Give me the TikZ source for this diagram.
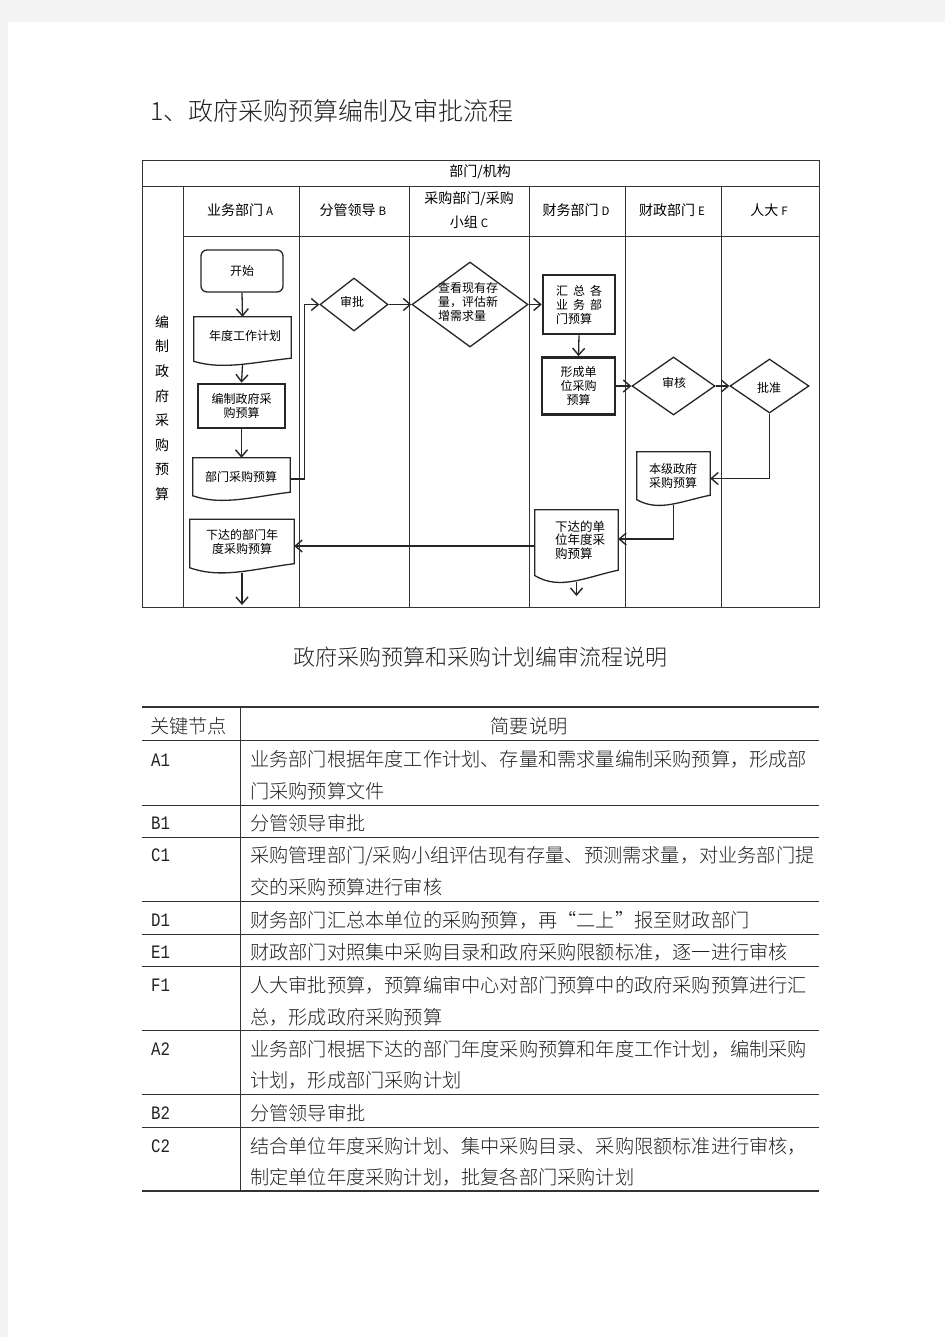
\documentclass[tikz,border=0pt]{standalone}
\usepackage{fontspec}
\setmainfont{Noto Sans CJK SC}
\IfFontExistsTF{Noto Sans CJK SC Light}{\newfontfamily\thinfont{Noto Sans CJK SC Light}}{\newfontfamily\thinfont{Noto Sans CJK SC}}
\newfontfamily\labfont[FakeStretch=0.83]{Liberation Mono}
\usetikzlibrary{arrows.meta,calc,shapes.geometric}
\definecolor{pagegray}{HTML}{F3F3F3}
\definecolor{ink}{HTML}{222222}
\definecolor{rulec}{HTML}{333333}
\newcommand\ltr[1]{{\fontsize{11.5}{11.5}\selectfont #1}}
\newcommand\docpath[2]{%
  \draw[flow] (#1.north west) -- (#1.north east) -- ($(#1.south east)+(0,{-#2})$)
   .. controls ($(#1.south west)!0.6!(#1.south east)+(0,{-0.4*#2})$) and ($(#1.south west)!0.3!(#1.south east)+(0,{0.7*#2})$) .. ($(#1.south west)+(0,{-0.55*#2})$) -- cycle;}
\begin{document}
\begin{tikzpicture}[x=1pt,y=-1pt,
  grid/.style={draw=rulec, line width=0.9pt},
  flow/.style={draw=black!85, line width=1.3pt},
  arr/.style={flow, -{Straight Barb[length=7pt,width=12pt,line width=1.4pt]}},
  ftext/.style={font=\fontsize{12}{14}\selectfont, inner sep=0pt, text=black},
  boxn/.style={ftext, draw=black!85, line width=1.3pt, align=center},
  thickbox/.style={boxn, line width=2.6pt},
  docn/.style={inner sep=0pt, draw=none},
  dia/.style={diamond, draw=black!85, line width=1.3pt, inner sep=0pt, aspect=1},
  hdr/.style={font=\fontsize{14}{24}\selectfont, inner sep=0pt, text=black},
  trule/.style={draw=rulec, line width=1pt},
  tcell/.style={font=\thinfont\fontsize{19.2}{31.5}\selectfont, inner sep=0pt, text=ink, align=left},
  tlab/.style={font=\labfont\fontsize{19}{20}\selectfont, inner sep=0pt, text=ink, anchor=west}
]
\fill[pagegray] (0,0) rectangle (945,1337);
\fill[white] (8,22) rectangle (945,1337);
\useasboundingbox (0,0) rectangle (945,1337);

% title
\node[anchor=west, inner sep=0pt, text=ink, font=\thinfont\fontsize{25}{25}\selectfont] (title) at (150,111) {1、政府采购预算编制及审批流程};

% swimlane grid
\draw[grid] (142,160) rectangle (819,607);
\draw[grid] (142,186) -- (819,186);
\draw[grid] (183,236) -- (819,236);
\draw[grid] (183,186) -- (183,607);
\foreach \xx in {299,409,529,625,721} \draw[grid] (\xx,186) -- (\xx,607);

\node[hdr] (h0) at (480,172) {部门/机构};
\node[hdr] (hA) at (240,210) {业务部门\hspace{3pt}\ltr{A}};
\node[hdr] (hB) at (353,210) {分管领导\hspace{3pt}\ltr{B}};
\node[hdr, align=center] (hC) at (469,210) {采购部门/采购\\小组\hspace{3pt}\ltr{C}};
\node[hdr] (hD) at (576,210) {财务部门\hspace{3pt}\ltr{D}};
\node[hdr] (hE) at (672,210) {财政部门\hspace{3pt}\ltr{E}};
\node[hdr] (hF) at (769,210) {人大\hspace{3pt}\ltr{F}};
\node[hdr, align=center, font=\fontsize{14}{24.6}\selectfont] (lane) at (162,408) {编\\制\\政\\府\\采\\购\\预\\算};

% flow nodes
\node[boxn, rounded corners=6pt, minimum width=82, minimum height=42] (start) at (242,271) {开始};
\node[docn, minimum width=97, minimum height=48] (plan) at (242.5,341) {};
\node[ftext] (plan-t) at (245,336) {年度工作计划};
\node[thickbox, minimum width=87, minimum height=44] (bz) at (241.5,406) {编制政府采\\购预算};
\node[docn, minimum width=97, minimum height=42] (dept) at (241.5,479) {};
\node[ftext] (dept-t) at (241,477) {部门采购预算};
\node[dia, minimum width=68, minimum height=53] (sp) at (354,304.5) {};
\node[ftext] (sp-t) at (352,302) {审批};
\node[dia, minimum width=116, minimum height=85] (ck) at (470,304.5) {};
\node[ftext, align=left] (ck-t) at (468,301.5) {查看现有存\\量，评估新\\增需求量};
\node[thickbox, align=left, minimum width=72, minimum height=59] (hz) at (579,304.5) {汇\hspace{5pt}总\hspace{5pt}各\\业\hspace{5pt}务\hspace{5pt}部\\门预算};
\node[thickbox, minimum width=73, minimum height=57] (xc) at (578.5,386) {形成单\\位采购\\预算};
\node[dia, minimum width=83, minimum height=58] (sh) at (673.5,386) {};
\node[ftext] (sh-t) at (674,383) {审核};
\node[dia, minimum width=79, minimum height=54] (pz) at (769.5,386) {};
\node[ftext] (pz-t) at (769,388) {批准};
\node[docn, minimum width=73, minimum height=53] (bj) at (673.5,478.5) {};
\node[ftext, align=left] (bj-t) at (673,475.5) {本级政府\\采购预算};
\node[docn, minimum width=83, minimum height=72] (xdd) at (576.5,546) {};
\node[ftext, align=left, font=\fontsize{12.5}{13.5}\selectfont] (xdd-t) at (580,540) {下达的单\\位年度采\\购预算};
\node[docn, minimum width=104, minimum height=53] (xdb) at (242,546) {};
\node[ftext, align=center] (xdb-t) at (242,542) {下达的部门年\\度采购预算};

\docpath{plan}{7}
\docpath{dept}{8}
\docpath{bj}{10}
\docpath{xdd}{12}
\docpath{xdb}{9}

\coordinate (e1) at (242,605);
\coordinate (e2) at (576.5,596);

% connectors
\draw[arr] (start.south) -- (plan.north);
\draw[arr] (plan.south) -- (bz.north);
\draw[arr] (bz.south) -- (dept.north);
\draw[arr] (dept.east) -- ++(14,0) |- (sp.west);
\draw[arr] (sp.east) -- (ck.west);
\draw[arr] (ck.east) -- (hz.west);
\draw[arr] (hz.south) -- (xc.north);
\draw[arr] (xc.east) -- (sh.west);
\draw[arr] (sh.east) -- (pz.west);
\draw[arr] (pz.south) |- (bj.east);
\draw[arr] (bj.south) |- ($(xdd.east)+(0,-7)$);
\draw[arr] (xdd.west) -- (xdb.east);
\draw[arr] (xdd.south) -- (e2);
\draw[arr] (xdb.south) -- (e1);

% subtitle
\node[inner sep=0pt, text=ink, font=\thinfont\fontsize{22}{22}\selectfont] (sub) at (480,657) {政府采购预算和采购计划编审流程说明};

% table rules
\draw[trule, line width=1.5pt] (142,707) -- (819,707);
\draw[trule, line width=1.5pt] (142,1191) -- (819,1191);
\foreach \yy in {740,805,837,901,934,966,1030,1094,1127} \draw[trule] (142,\yy) -- (819,\yy);
\draw[trule] (240,707) -- (240,1191);

% table text
\node[tcell, anchor=west] (k0) at (150,726) {关键节点};
\node[tcell] (k0d) at (529,726) {简要说明};

\node[tlab] (lA1) at (151,760) {A1};
\node[tcell, anchor=west] (dA1) at (250,775) {业务部门根据年度工作计划、存量和需求量编制采购预算，形成部\\门采购预算文件};
\node[tlab] (lB1) at (151,823) {B1};
\node[tcell, anchor=west] (dB1) at (250,823) {分管领导审批};
\node[tlab] (lC1) at (151,855) {C1};
\node[tcell, anchor=west] (dC1) at (250,871) {采购管理部门/采购小组评估现有存量、预测需求量，对业务部门提\\交的采购预算进行审核};
\node[tlab] (lD1) at (151,920) {D1};
\node[tcell, anchor=west] (dD1) at (250,920) {财务部门汇总本单位的采购预算，再“二上”报至财政部门};
\node[tlab] (lE1) at (151,952) {E1};
\node[tcell, anchor=west] (dE1) at (250,952) {财政部门对照集中采购目录和政府采购限额标准，逐一进行审核};
\node[tlab] (lF1) at (151,985) {F1};
\node[tcell, anchor=west] (dF1) at (250,1001) {人大审批预算，预算编审中心对部门预算中的政府采购预算进行汇\\总，形成政府采购预算};
\node[tlab] (lA2) at (151,1049) {A2};
\node[tcell, anchor=west] (dA2) at (250,1065) {业务部门根据下达的部门年度采购预算和年度工作计划，编制采购\\计划，形成部门采购计划};
\node[tlab] (lB2) at (151,1113) {B2};
\node[tcell, anchor=west] (dB2) at (250,1113) {分管领导审批};
\node[tlab] (lC2) at (151,1146) {C2};
\node[tcell, anchor=west] (dC2) at (250,1162) {结合单位年度采购计划、集中采购目录、采购限额标准进行审核，\\制定单位年度采购计划，批复各部门采购计划};
\end{tikzpicture}
\end{document}
